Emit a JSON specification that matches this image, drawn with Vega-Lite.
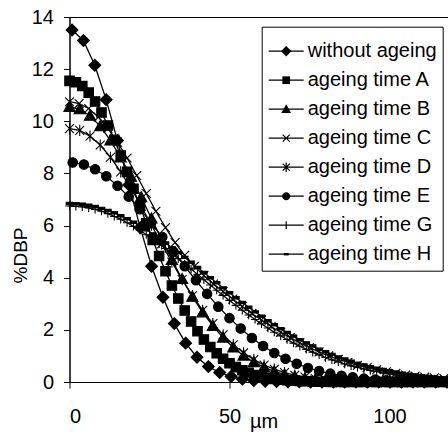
{
  "$schema": "https://vega.github.io/schema/vega-lite/v6.json",
  "width": 378.5,
  "height": 365,
  "autosize": {"type": "none"},
  "padding": {"left": 69.5, "top": 17, "right": 0, "bottom": 50},
  "background": "white",
  "config": {
    "view": {"stroke": "black", "strokeWidth": 1},
    "axis": {"grid": false, "domainColor": "black", "tickColor": "black", "labelColor": "black", "titleColor": "black", "labelFont": "Liberation Sans", "titleFont": "Liberation Sans", "labelFontSize": 20, "titleFontWeight": "normal", "tickSize": 6, "domainWidth": 1, "tickWidth": 1}
  },
  "data": {"values": [
    {"s":"W","x":0.8,"y":13.5},{"s":"W","x":4.35,"y":13.1},{"s":"W","x":7.9,"y":12.15},{"s":"W","x":11.45,"y":10.83},{"s":"W","x":15,"y":9.26},{"s":"W","x":18.55,"y":7.56},{"s":"W","x":22.1,"y":5.92},{"s":"W","x":25.65,"y":4.44},{"s":"W","x":29.2,"y":3.25},{"s":"W","x":32.75,"y":2.24},{"s":"W","x":36.3,"y":1.49},{"s":"W","x":39.85,"y":0.95},{"s":"W","x":43.4,"y":0.59},{"s":"W","x":46.95,"y":0.36},{"s":"W","x":50.5,"y":0.21},{"s":"W","x":54.05,"y":0.11},{"s":"W","x":57.6,"y":0.06},{"s":"W","x":61.15,"y":0.03},{"s":"W","x":64.7,"y":0.015},{"s":"W","x":68.25,"y":0.01},{"s":"W","x":71.8,"y":0.01},{"s":"W","x":75.35,"y":0},{"s":"W","x":78.9,"y":0},{"s":"W","x":82.45,"y":0},{"s":"W","x":86,"y":0},{"s":"W","x":89.55,"y":0},{"s":"W","x":93.1,"y":0},{"s":"W","x":96.65,"y":0},{"s":"W","x":100.2,"y":0},{"s":"W","x":103.75,"y":0},{"s":"W","x":107.3,"y":0},{"s":"W","x":110.85,"y":0},{"s":"W","x":114.4,"y":0},{"s":"W","x":117.95,"y":0},
    {"s":"A","x":0,"y":11.55},{"s":"A","x":2,"y":11.5},{"s":"A","x":4,"y":11.35},{"s":"A","x":6,"y":11.1},{"s":"A","x":8,"y":10.76},{"s":"A","x":10,"y":10.34},{"s":"A","x":12,"y":9.84},{"s":"A","x":14,"y":9.29},{"s":"A","x":16,"y":8.69},{"s":"A","x":18,"y":8.06},{"s":"A","x":20,"y":7.41},{"s":"A","x":22,"y":6.75},{"s":"A","x":24,"y":6.09},{"s":"A","x":26,"y":5.45},{"s":"A","x":28,"y":4.83},{"s":"A","x":30,"y":4.25},{"s":"A","x":32,"y":3.7},{"s":"A","x":34,"y":3.2},{"s":"A","x":36,"y":2.74},{"s":"A","x":38,"y":2.32},{"s":"A","x":40,"y":1.95},{"s":"A","x":42,"y":1.63},{"s":"A","x":44,"y":1.34},{"s":"A","x":46,"y":1.1},{"s":"A","x":48,"y":0.89},{"s":"A","x":50,"y":0.72},{"s":"A","x":52,"y":0.57},{"s":"A","x":54,"y":0.45},{"s":"A","x":56,"y":0.35},{"s":"A","x":58,"y":0.27},{"s":"A","x":60,"y":0.21},{"s":"A","x":62,"y":0.16},{"s":"A","x":64,"y":0.12},{"s":"A","x":66,"y":0.09},{"s":"A","x":68,"y":0.07},{"s":"A","x":70,"y":0.05},{"s":"A","x":72,"y":0.04},{"s":"A","x":74,"y":0.03},{"s":"A","x":76,"y":0.02},{"s":"A","x":78,"y":0.01},{"s":"A","x":80,"y":0.01},{"s":"A","x":82,"y":0},{"s":"A","x":84,"y":0},{"s":"A","x":86,"y":0},{"s":"A","x":88,"y":0},{"s":"A","x":90,"y":0},{"s":"A","x":92,"y":0},{"s":"A","x":94,"y":0},{"s":"A","x":96,"y":0},{"s":"A","x":98,"y":0},{"s":"A","x":100,"y":0},{"s":"A","x":102,"y":0},{"s":"A","x":104,"y":0},{"s":"A","x":106,"y":0},{"s":"A","x":108,"y":0},{"s":"A","x":110,"y":0},{"s":"A","x":112,"y":0},{"s":"A","x":114,"y":0},{"s":"A","x":116,"y":0},{"s":"A","x":118,"y":0},
    {"s":"B","x":0,"y":10.55},{"s":"B","x":3.2,"y":10.46},{"s":"B","x":6.4,"y":10.21},{"s":"B","x":9.6,"y":9.81},{"s":"B","x":12.8,"y":9.26},{"s":"B","x":16,"y":8.61},{"s":"B","x":19.2,"y":7.87},{"s":"B","x":22.4,"y":7.09},{"s":"B","x":25.6,"y":6.27},{"s":"B","x":28.8,"y":5.46},{"s":"B","x":32,"y":4.68},{"s":"B","x":35.2,"y":3.95},{"s":"B","x":38.4,"y":3.27},{"s":"B","x":41.6,"y":2.67},{"s":"B","x":44.8,"y":2.15},{"s":"B","x":48,"y":1.7},{"s":"B","x":51.2,"y":1.32},{"s":"B","x":54.4,"y":1.01},{"s":"B","x":57.6,"y":0.76},{"s":"B","x":60.8,"y":0.56},{"s":"B","x":64,"y":0.41},{"s":"B","x":67.2,"y":0.29},{"s":"B","x":70.4,"y":0.21},{"s":"B","x":73.6,"y":0.14},{"s":"B","x":76.8,"y":0.1},{"s":"B","x":80,"y":0.07},{"s":"B","x":83.2,"y":0.04},{"s":"B","x":86.4,"y":0.03},{"s":"B","x":89.6,"y":0.02},{"s":"B","x":92.8,"y":0.01},{"s":"B","x":96,"y":0.01},{"s":"B","x":99.2,"y":0},{"s":"B","x":102.4,"y":0},{"s":"B","x":105.6,"y":0},{"s":"B","x":108.8,"y":0},{"s":"B","x":112,"y":0},{"s":"B","x":115.2,"y":0},
    {"s":"C","x":0,"y":10.75},{"s":"C","x":3,"y":10.68},{"s":"C","x":6,"y":10.49},{"s":"C","x":9,"y":10.16},{"s":"C","x":12,"y":9.73},{"s":"C","x":15,"y":9.2},{"s":"C","x":18,"y":8.59},{"s":"C","x":21,"y":7.92},{"s":"C","x":24,"y":7.23},{"s":"C","x":27,"y":6.55},{"s":"C","x":30,"y":5.92},{"s":"C","x":33,"y":5.35},{"s":"C","x":36,"y":4.86},{"s":"C","x":39,"y":4.44},{"s":"C","x":42,"y":4.08},{"s":"C","x":45,"y":3.76},{"s":"C","x":48,"y":3.47},{"s":"C","x":51,"y":3.18},{"s":"C","x":54,"y":2.9},{"s":"C","x":57,"y":2.63},{"s":"C","x":60,"y":2.38},{"s":"C","x":63,"y":2.13},{"s":"C","x":66,"y":1.91},{"s":"C","x":69,"y":1.7},{"s":"C","x":72,"y":1.5},{"s":"C","x":75,"y":1.32},{"s":"C","x":78,"y":1.15},{"s":"C","x":81,"y":1},{"s":"C","x":84,"y":0.87},{"s":"C","x":87,"y":0.75},{"s":"C","x":90,"y":0.64},{"s":"C","x":93,"y":0.55},{"s":"C","x":96,"y":0.47},{"s":"C","x":99,"y":0.39},{"s":"C","x":102,"y":0.33},{"s":"C","x":105,"y":0.27},{"s":"C","x":108,"y":0.23},{"s":"C","x":111,"y":0.19},{"s":"C","x":114,"y":0.16},{"s":"C","x":117,"y":0.13},
    {"s":"D","x":0,"y":9.72},{"s":"D","x":3.2,"y":9.65},{"s":"D","x":6.4,"y":9.43},{"s":"D","x":9.6,"y":9.09},{"s":"D","x":12.8,"y":8.62},{"s":"D","x":16,"y":8.06},{"s":"D","x":19.2,"y":7.43},{"s":"D","x":22.4,"y":6.74},{"s":"D","x":25.6,"y":6.02},{"s":"D","x":28.8,"y":5.3},{"s":"D","x":32,"y":4.6},{"s":"D","x":35.2,"y":3.93},{"s":"D","x":38.4,"y":3.31},{"s":"D","x":41.6,"y":2.75},{"s":"D","x":44.8,"y":2.24},{"s":"D","x":48,"y":1.81},{"s":"D","x":51.2,"y":1.43},{"s":"D","x":54.4,"y":1.12},{"s":"D","x":57.6,"y":0.86},{"s":"D","x":60.8,"y":0.65},{"s":"D","x":64,"y":0.49},{"s":"D","x":67.2,"y":0.36},{"s":"D","x":70.4,"y":0.26},{"s":"D","x":73.6,"y":0.19},{"s":"D","x":76.8,"y":0.13},{"s":"D","x":80,"y":0.09},{"s":"D","x":83.2,"y":0.06},{"s":"D","x":86.4,"y":0.04},{"s":"D","x":89.6,"y":0.03},{"s":"D","x":92.8,"y":0.02},{"s":"D","x":96,"y":0.01},{"s":"D","x":99.2,"y":0.01},{"s":"D","x":102.4,"y":0},{"s":"D","x":105.6,"y":0},{"s":"D","x":108.8,"y":0},{"s":"D","x":112,"y":0},{"s":"D","x":115.2,"y":0},
    {"s":"E","x":1,"y":8.42},{"s":"E","x":4.5,"y":8.34},{"s":"E","x":8,"y":8.16},{"s":"E","x":11.5,"y":7.89},{"s":"E","x":15,"y":7.53},{"s":"E","x":18.5,"y":7.11},{"s":"E","x":22,"y":6.63},{"s":"E","x":25.5,"y":6.11},{"s":"E","x":29,"y":5.56},{"s":"E","x":32.5,"y":5},{"s":"E","x":36,"y":4.44},{"s":"E","x":39.5,"y":3.9},{"s":"E","x":43,"y":3.38},{"s":"E","x":46.5,"y":2.89},{"s":"E","x":50,"y":2.45},{"s":"E","x":53.5,"y":2.05},{"s":"E","x":57,"y":1.69},{"s":"E","x":60.5,"y":1.38},{"s":"E","x":64,"y":1.11},{"s":"E","x":67.5,"y":0.89},{"s":"E","x":71,"y":0.7},{"s":"E","x":74.5,"y":0.54},{"s":"E","x":78,"y":0.42},{"s":"E","x":81.5,"y":0.32},{"s":"E","x":85,"y":0.24},{"s":"E","x":88.5,"y":0.18},{"s":"E","x":92,"y":0.13},{"s":"E","x":95.5,"y":0.09},{"s":"E","x":99,"y":0.07},{"s":"E","x":102.5,"y":0.05},{"s":"E","x":106,"y":0.03},{"s":"E","x":109.5,"y":0.02},{"s":"E","x":113,"y":0.02},{"s":"E","x":116.5,"y":0.01},
    {"s":"G","x":0,"y":6.75},{"s":"G","x":2,"y":6.74},{"s":"G","x":4,"y":6.72},{"s":"G","x":6,"y":6.68},{"s":"G","x":8,"y":6.62},{"s":"G","x":10,"y":6.55},{"s":"G","x":12,"y":6.46},{"s":"G","x":14,"y":6.35},{"s":"G","x":16,"y":6.24},{"s":"G","x":18,"y":6.11},{"s":"G","x":20,"y":5.97},{"s":"G","x":22,"y":5.82},{"s":"G","x":24,"y":5.65},{"s":"G","x":26,"y":5.48},{"s":"G","x":28,"y":5.3},{"s":"G","x":30,"y":5.12},{"s":"G","x":32,"y":4.93},{"s":"G","x":34,"y":4.73},{"s":"G","x":36,"y":4.53},{"s":"G","x":38,"y":4.33},{"s":"G","x":40,"y":4.13},{"s":"G","x":42,"y":3.92},{"s":"G","x":44,"y":3.72},{"s":"G","x":46,"y":3.52},{"s":"G","x":48,"y":3.32},{"s":"G","x":50,"y":3.13},{"s":"G","x":52,"y":2.94},{"s":"G","x":54,"y":2.75},{"s":"G","x":56,"y":2.57},{"s":"G","x":58,"y":2.4},{"s":"G","x":60,"y":2.23},{"s":"G","x":62,"y":2.07},{"s":"G","x":64,"y":1.91},{"s":"G","x":66,"y":1.77},{"s":"G","x":68,"y":1.63},{"s":"G","x":70,"y":1.49},{"s":"G","x":72,"y":1.37},{"s":"G","x":74,"y":1.25},{"s":"G","x":76,"y":1.14},{"s":"G","x":78,"y":1.04},{"s":"G","x":80,"y":0.94},{"s":"G","x":82,"y":0.85},{"s":"G","x":84,"y":0.77},{"s":"G","x":86,"y":0.69},{"s":"G","x":88,"y":0.62},{"s":"G","x":90,"y":0.56},{"s":"G","x":92,"y":0.5},{"s":"G","x":94,"y":0.44},{"s":"G","x":96,"y":0.4},{"s":"G","x":98,"y":0.35},{"s":"G","x":100,"y":0.31},{"s":"G","x":102,"y":0.27},{"s":"G","x":104,"y":0.24},{"s":"G","x":106,"y":0.21},{"s":"G","x":108,"y":0.19},{"s":"G","x":110,"y":0.16},{"s":"G","x":112,"y":0.14},{"s":"G","x":114,"y":0.12},{"s":"G","x":116,"y":0.11},{"s":"G","x":118,"y":0.09},
    {"s":"H","x":0,"y":6.85},{"s":"H","x":2,"y":6.84},{"s":"H","x":4,"y":6.82},{"s":"H","x":6,"y":6.78},{"s":"H","x":8,"y":6.73},{"s":"H","x":10,"y":6.66},{"s":"H","x":12,"y":6.58},{"s":"H","x":14,"y":6.49},{"s":"H","x":16,"y":6.38},{"s":"H","x":18,"y":6.26},{"s":"H","x":20,"y":6.13},{"s":"H","x":22,"y":5.99},{"s":"H","x":24,"y":5.84},{"s":"H","x":26,"y":5.68},{"s":"H","x":28,"y":5.51},{"s":"H","x":30,"y":5.33},{"s":"H","x":32,"y":5.15},{"s":"H","x":34,"y":4.97},{"s":"H","x":36,"y":4.78},{"s":"H","x":38,"y":4.59},{"s":"H","x":40,"y":4.39},{"s":"H","x":42,"y":4.2},{"s":"H","x":44,"y":4},{"s":"H","x":46,"y":3.81},{"s":"H","x":48,"y":3.61},{"s":"H","x":50,"y":3.42},{"s":"H","x":52,"y":3.23},{"s":"H","x":54,"y":3.05},{"s":"H","x":56,"y":2.87},{"s":"H","x":58,"y":2.69},{"s":"H","x":60,"y":2.52},{"s":"H","x":62,"y":2.35},{"s":"H","x":64,"y":2.2},{"s":"H","x":66,"y":2.04},{"s":"H","x":68,"y":1.9},{"s":"H","x":70,"y":1.76},{"s":"H","x":72,"y":1.62},{"s":"H","x":74,"y":1.5},{"s":"H","x":76,"y":1.38},{"s":"H","x":78,"y":1.26},{"s":"H","x":80,"y":1.16},{"s":"H","x":82,"y":1.06},{"s":"H","x":84,"y":0.96},{"s":"H","x":86,"y":0.88},{"s":"H","x":88,"y":0.8},{"s":"H","x":90,"y":0.72},{"s":"H","x":92,"y":0.65},{"s":"H","x":94,"y":0.59},{"s":"H","x":96,"y":0.53},{"s":"H","x":98,"y":0.48},{"s":"H","x":100,"y":0.43},{"s":"H","x":102,"y":0.38},{"s":"H","x":104,"y":0.34},{"s":"H","x":106,"y":0.3},{"s":"H","x":108,"y":0.27},{"s":"H","x":110,"y":0.24},{"s":"H","x":112,"y":0.21},{"s":"H","x":114,"y":0.19},{"s":"H","x":116,"y":0.16},{"s":"H","x":118,"y":0.14}
  ]},
  "encoding": {
    "x": {"field": "x", "type": "quantitative", "scale": {"domain": [0, 118.28], "nice": false, "zero": false},
      "axis": {"values": [0, 50, 100], "title": "µm", "labelPadding": 18, "titleFontSize": 20, "titleX": 194, "titleY": 45.7, "titleBaseline": "alphabetic"}},
    "y": {"field": "y", "type": "quantitative", "scale": {"domain": [0, 14], "nice": false},
      "axis": {"values": [0, 2, 4, 6, 8, 10, 12, 14], "title": "%DBP", "labelPadding": 10, "titleFontSize": 19, "titleX": -43.5, "titleY": 238, "titleBaseline": "alphabetic"}}
  },
  "layer": [
    {"mark": {"type": "line", "color": "black", "strokeWidth": 1.3},
     "encoding": {"detail": {"field": "s"}}},
    {"mark": {"type": "point", "fill": "black", "stroke": "black", "strokeWidth": 1.1, "opacity": 1, "size": 140, "clip": false},
     "encoding": {"shape": {"field": "s", "legend": null,
       "scale": {"domain": ["W","A","B","C","D","E","G","H"],
         "range": [
           "M0,-1L1,0L0,1L-1,0Z",
           "M-0.8,-0.8L0.8,-0.8L0.8,0.8L-0.8,0.8Z",
           "M0,-0.95L0.95,0.75L-0.95,0.75Z",
           "M-0.75,-0.75L0.75,0.75M-0.75,0.75L0.75,-0.75",
           "M-0.75,-0.75L0.75,0.75M-0.75,0.75L0.75,-0.75M0,-0.95L0,0.95",
           "M0.8,0A0.8,0.8,0,1,1,-0.8,0A0.8,0.8,0,1,1,0.8,0Z",
           "M-0.7,0L0.7,0M0,-0.7L0,0.7",
           "M-0.55,-0.2L0.55,-0.2L0.55,0.2L-0.55,0.2Z"
         ]}}}},
    {"mark": {"type": "point", "opacity": 0, "size": 1225},
     "encoding": {"shape": {"field": "s",
       "scale": {"domain": ["W","A","B","C","D","E","G","H"],
         "range": [
           "M-1,0L1,0",
           "M-1,0L1,0",
           "M-1,0L1,0",
           "M-1,0L1,0M-0.2,-0.2L0.2,0.2M-0.2,0.2L0.2,-0.2",
           "M-1,0L1,0M-0.2,-0.2L0.2,0.2M-0.2,0.2L0.2,-0.2M0,-0.27L0,0.27",
           "M-1,0L1,0",
           "M-1,0L1,0M0,-0.22L0,0.22",
           "M-1,0L1,0"
         ]},
       "legend": {"orient": "none", "legendX": 192.2, "legendY": 9.7, "title": null,
         "symbolSize": 1225, "symbolStrokeColor": "black", "symbolStrokeWidth": 1.2, "symbolOpacity": 1,
         "labelFontSize": 20, "labelFont": "Liberation Sans", "labelColor": "black", "labelOffset": 3, "labelLimit": 0,
         "padding": 6, "rowPadding": -7, "strokeColor": "black",
         "labelExpr": "datum.value === 'W' ? 'without ageing' : 'ageing time ' + datum.value"}}}},
    {"mark": {"type": "point", "filled": true, "color": "black", "opacity": 0, "size": 1225},
     "encoding": {"shape": {"field": "s",
       "scale": {"domain": ["W","A","B","C","D","E","G","H"],
         "range": [
           "M0,-0.3L0.3,0L0,0.3L-0.3,0Z",
           "M-0.22,-0.22L0.22,-0.22L0.22,0.22L-0.22,0.22Z",
           "M0,-0.28L0.28,0.22L-0.28,0.22Z",
           "M0,0",
           "M0,0",
           "M0.23,0A0.23,0.23,0,1,1,-0.23,0A0.23,0.23,0,1,1,0.23,0Z",
           "M0,0",
           "M-0.14,-0.07L0.14,-0.07L0.14,0.07L-0.14,0.07Z"
         ]},
       "legend": {"orient": "none", "legendX": 192.2, "legendY": 9.7, "title": null,
         "symbolSize": 1225, "symbolFillColor": "black", "symbolOpacity": 1,
         "labelFontSize": 20, "labelFont": "Liberation Sans", "labelOffset": 3, "labelLimit": 0,
         "padding": 6, "rowPadding": -7,
         "labelExpr": "''"}}}}
  ],
  "resolve": {"scale": {"shape": "independent"}, "legend": {"shape": "independent"}}
}
